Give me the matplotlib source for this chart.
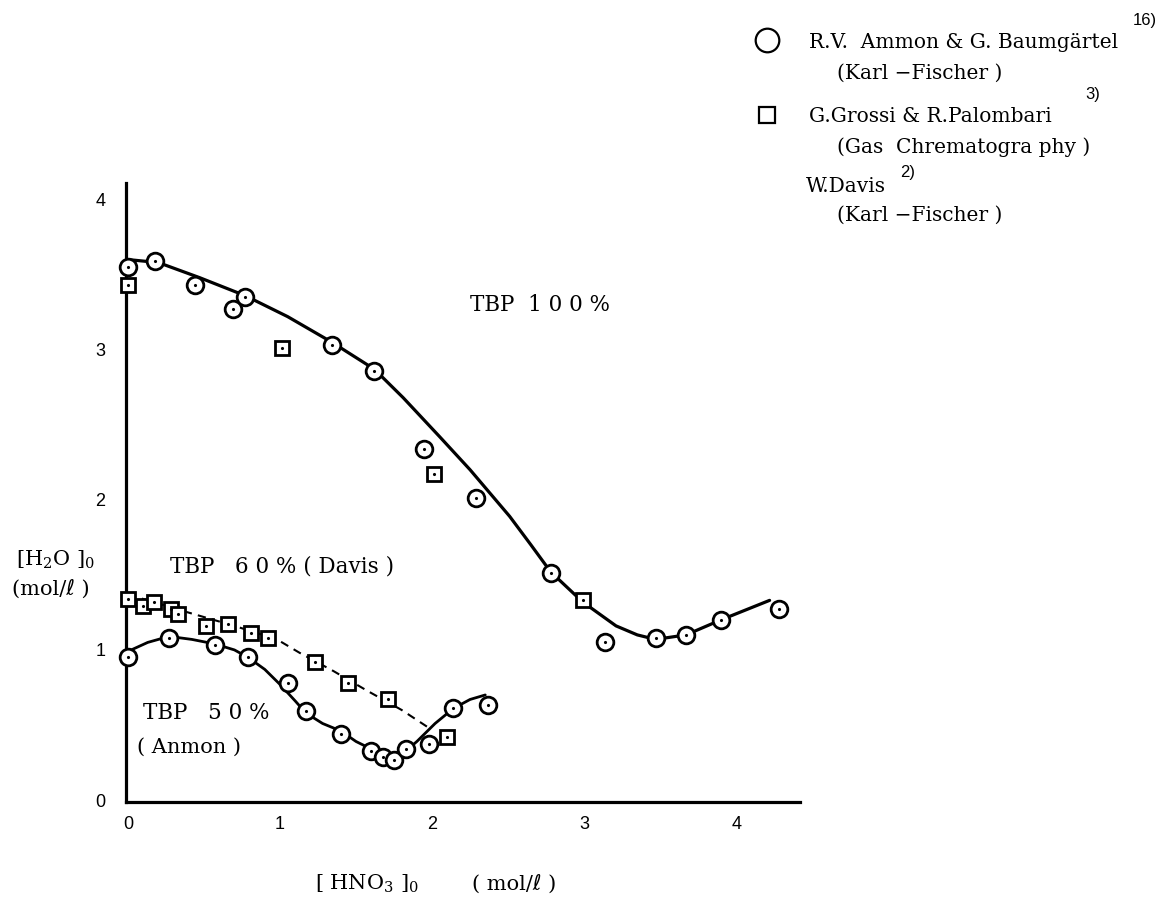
import numpy as np
import matplotlib
matplotlib.use("Agg")
import matplotlib.pyplot as plt

plt.rcParams["mathtext.fontset"] = "dejavuserif"

# ---- data ----
# TBP 100%, Ammon & Baumgaertel (circles)
amm100_x = [0.0, 0.18, 0.44, 0.69, 0.77, 1.34, 1.62, 1.95, 2.29, 2.78, 3.14, 3.47, 3.67, 3.90, 4.28]
amm100_y = [3.55, 3.59, 3.43, 3.27, 3.35, 3.03, 2.86, 2.34, 2.01, 1.51, 1.05, 1.08, 1.10, 1.20, 1.27]
# TBP 100%, Grossi & Palombari (squares)
gro100_x = [0.0, 1.01, 2.01, 2.99]
gro100_y = [3.43, 3.01, 2.17, 1.33]
# hand-drawn curve for TBP 100%
fit100_x = [0.0, 0.2, 0.47, 0.77, 1.05, 1.34, 1.62, 1.81, 2.05, 2.25, 2.51, 2.65, 2.78,
            2.99, 3.21, 3.35, 3.47, 3.67, 3.90, 4.22]
fit100_y = [3.60, 3.58, 3.48, 3.36, 3.22, 3.05, 2.87, 2.68, 2.42, 2.20, 1.89, 1.70, 1.52,
            1.32, 1.16, 1.10, 1.07, 1.10, 1.20, 1.33]

# TBP 60% (Davis, squares + dashed line)
dav60_x = [0.0, 0.10, 0.17, 0.28, 0.33, 0.51, 0.66, 0.81, 0.92, 1.23, 1.45, 1.71, 2.10]
dav60_y = [1.34, 1.29, 1.32, 1.27, 1.24, 1.16, 1.17, 1.11, 1.08, 0.92, 0.78, 0.67, 0.42]
fit60_x = [0.0, 0.36, 0.70, 0.98, 1.13, 1.35, 1.57, 1.80, 1.98]
fit60_y = [1.37, 1.26, 1.16, 1.07, 0.98, 0.86, 0.73, 0.60, 0.48]

# TBP 50% (Ammon, circles)
amm50_x = [0.0, 0.27, 0.57, 0.79, 1.05, 1.17, 1.40, 1.60, 1.68, 1.75, 1.83, 1.98, 2.14, 2.37]
amm50_y = [0.95, 1.08, 1.03, 0.95, 0.78, 0.59, 0.44, 0.33, 0.29, 0.27, 0.34, 0.37, 0.61, 0.63]
fit50_x = [0.0, 0.13, 0.27, 0.42, 0.57, 0.70, 0.79, 0.90, 1.00, 1.10, 1.17, 1.28, 1.40,
           1.50, 1.60, 1.68, 1.75, 1.82, 1.90, 2.02, 2.14, 2.25, 2.35]
fit50_y = [0.99, 1.05, 1.09, 1.07, 1.04, 1.00, 0.95, 0.87, 0.77, 0.66, 0.58, 0.51, 0.46,
           0.39, 0.34, 0.30, 0.28, 0.32, 0.39, 0.51, 0.61, 0.67, 0.70]

xticks = [0, 1, 2, 3, 4]
yticks = [0, 1, 2, 3, 4]

SERIF = ["DejaVu Serif", "DejaVu Sans"]
W, H = 1169, 900

fig = plt.figure(figsize=(W / 100, H / 100), dpi=100)
fig.patch.set_facecolor("white")
# axes box in pixels: left 126, right 800, top 183, bottom 802
ax = fig.add_axes([126 / W, 1 - 802 / H, (800 - 126) / W, (802 - 183) / H])

ax.plot(fit100_x, fit100_y, color="black", lw=2.3, solid_capstyle="round", zorder=2)
ax.plot(fit50_x, fit50_y, color="black", lw=2.0, solid_capstyle="round", zorder=2)
ax.plot(fit60_x, fit60_y, color="black", lw=1.5, ls=(0, (4, 3)), zorder=2)

circ = dict(marker="o", ms=12, mfc="white", mec="black", mew=2.0, ls="none",
            zorder=3, clip_on=False)
sq = dict(marker="s", ms=10, mfc="white", mec="black", mew=2.0, ls="none",
          zorder=3, clip_on=False)
dot = dict(marker=".", ms=2.5, color="black", ls="none", zorder=4, clip_on=False)

for xs, ys, st in [(amm100_x, amm100_y, circ), (gro100_x, gro100_y, sq),
                   (dav60_x, dav60_y, sq), (amm50_x, amm50_y, circ)]:
    ax.plot(xs, ys, **st)
    ax.plot(xs, ys, **dot)

ax.set_xlim(-0.013, 4.42)
ax.set_ylim(-0.013, 4.11)
ax.set_xticks(xticks)
ax.set_yticks(yticks)
ax.tick_params(length=0, labelsize=13)
ax.tick_params(axis="x", pad=10)
ax.tick_params(axis="y", pad=15)
for lab in ax.get_xticklabels() + ax.get_yticklabels():
    lab.set_family("Liberation Sans")
for s in ["top", "right"]:
    ax.spines[s].set_visible(False)
for s in ["left", "bottom"]:
    ax.spines[s].set_linewidth(2.3)


def ftext(x, y, s, **kw):
    # place text by pixel position (left edge, vertical centre)
    kw.setdefault("family", SERIF)
    kw.setdefault("fontsize", 14.5)
    kw.setdefault("va", "center")
    fig.text(x / W, 1 - y / H, s, **kw)


# curve labels
ftext(470, 305, "TBP  1 0 0 %", fontsize=15.5)
ftext(170, 567, "TBP   6 0 % ( Davis )", fontsize=15.5)
ftext(143, 713, "TBP   5 0 %", fontsize=15.5)
ftext(137, 747, "( Anmon )", fontsize=15)

# axis labels
ftext(16, 560, r"[H$_2$O ]$_0$", fontsize=15)
ftext(12, 589, "(mol/ℓ )", fontsize=15)
ftext(315, 884, r"[ HNO$_3$ ]$_0$", fontsize=15)
ftext(472, 884, "( mol/ℓ )", fontsize=15)

# key in upper right
fig.lines.append(plt.Line2D([767 / W], [1 - 40 / H], transform=fig.transFigure,
                            marker="o", ms=17, mfc="white", mec="black", mew=1.6))
fig.lines.append(plt.Line2D([767 / W], [1 - 115 / H], transform=fig.transFigure,
                            marker="s", ms=12, mfc="white", mec="black", mew=1.6))
ftext(809, 43, "R.V.  Ammon & G. Baumgärtel")
ftext(1133, 20, "16)", family="Liberation Sans", fontsize=12)
ftext(837, 73, "(Karl −Fischer )")
ftext(809, 117, "G.Grossi & R.Palombari")
ftext(1085, 95, "3)", family="Liberation Sans", fontsize=12)
ftext(837, 147, "(Gas  Chrematogra phy )")
ftext(806, 187, "W.Davis")
ftext(900, 172, "2)", family="Liberation Sans", fontsize=12)
ftext(837, 215, "(Karl −Fischer )")

fig.savefig("out.png", dpi=100)
